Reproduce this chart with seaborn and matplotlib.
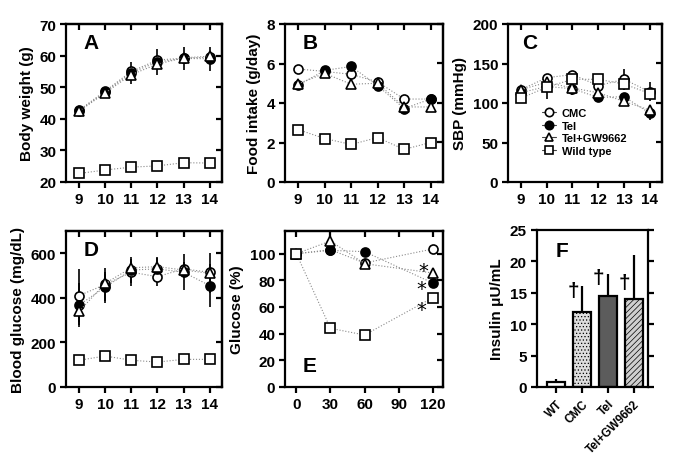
import matplotlib
matplotlib.use('Agg')
import matplotlib.pyplot as plt
from matplotlib.lines import Line2D
import numpy as np
import seaborn as sns

# ---- data ----
weeks = [9, 10, 11, 12, 13, 14]
groups = ['CMC', 'Tel', 'Tel+GW9662', 'Wild type']

# A: body weight (g)
bw_cmc = [42.7, 48.8, 55.0, 58.6, 59.2, 59.5]
bw_tel = [42.5, 48.5, 54.6, 58.0, 59.1, 59.0]
bw_gw = [42.4, 48.2, 54.0, 57.3, 59.3, 59.8]
bw_wt = [22.7, 23.8, 24.7, 25.1, 26.1, 26.0]
bw_err_tel = [0.5, 1.5, 3.5, 4.0, 3.5, 3.8]
bw_err_wt = [1.0, 0.5, 0.5, 0.5, 0.5, 0.5]

# B: food intake (g/day)
fi_cmc = [5.72, 5.6, 5.45, 5.07, 4.2, 4.2]
fi_tel = [4.9, 5.65, 5.85, 4.88, 3.72, 4.2]
fi_gw = [4.98, 5.5, 4.95, 5.0, 3.8, 3.8]
fi_wt = [2.65, 2.2, 1.9, 2.25, 1.65, 2.0]

# C: SBP (mmHg)
sbp_cmc = [117, 132, 136, 122, 130, 114]
sbp_tel = [113, 121, 118, 107, 108, 87]
sbp_gw = [117, 126, 119, 113, 102, 91]
sbp_wt = [106, 120, 130, 130, 124, 112]
sbp_err_cmc = [3, 3, 5, 3, 13, 12]
sbp_err_tel = [3, 3, 8, 3, 3, 8]
sbp_err_wt = [3, 15, 5, 3, 4, 3]

# D: blood glucose (mg/dL)
bg_cmc = [410, 460, 515, 495, 530, 515]
bg_tel = [368, 448, 525, 530, 515, 455]
bg_gw = [339, 465, 535, 540, 525, 510]
bg_wt = [120, 139, 120, 112, 124, 124]
bg_err_cmc = [120, 75, 60, 40, 30, 20]
bg_err_tel = [100, 70, 60, 50, 80, 95]
bg_err_gw = [60, 40, 30, 45, 35, 90]

# E: glucose tolerance (%)
minutes = [0, 30, 60, 120]
gl_cmc = [100, 103, 93, 103.5]
gl_tel = [100, 102.5, 101.5, 78]
gl_gw = [100, 109.5, 92.5, 85.5]
gl_wt = [100, 44, 39, 67]
ast_x = [111.5, 110, 110]
ast_y = [87.5, 74, 58]

# F: insulin
ins_groups = ['WT', 'CMC', 'Tel', 'Tel+GW9662']
ins_mean = [0.85, 11.9, 14.5, 14.05]
ins_err = [0.35, 4.2, 3.5, 7.0]
dagger_y = [15.3, 17.4, 16.7]

# ---- style ----
sns.set_style('ticks')
plt.rcParams['font.family'] = ['Liberation Sans', 'DejaVu Sans']
plt.rcParams['font.weight'] = 'bold'
plt.rcParams['axes.labelweight'] = 'bold'
plt.rcParams['axes.linewidth'] = 1.6
plt.rcParams['hatch.linewidth'] = 0.5
for key in ['text.color', 'axes.labelcolor', 'axes.edgecolor', 'xtick.color', 'ytick.color']:
    plt.rcParams[key] = 'black'

MARK = {'CMC': ('o', 'white'), 'Tel': ('o', 'black'),
        'Tel+GW9662': ('^', 'white'), 'Wild type': ('s', 'white')}


def draw(ax, x, series, errs=None):
    errs = errs or {}
    for name, y in zip(groups, series):
        m, fc = MARK[name]
        if name in errs:
            ax.errorbar(x, y, yerr=errs[name], fmt='none', ecolor='black',
                        elinewidth=1.2, capsize=0, zorder=2)
        sns.lineplot(x=x, y=y, ax=ax, color='#8a8a8a', lw=0.8, ls=':',
                     marker=m, ms=6.5, mfc=fc, mec='black', mew=1.2, zorder=3)


def frame(ax, xticks, yticks, xlim, ylim, ylabel):
    ax.set_xlim(xlim); ax.set_ylim(ylim)
    ax.set_xticks(xticks); ax.set_yticks(yticks)
    ax.tick_params(direction='out', length=4, width=1.6, labelsize=11, pad=3)
    ax.set_xlabel('')
    ax.set_ylabel(ylabel, fontsize=11)
    top = ax.secondary_xaxis('top')
    top.set_xticks(xticks, labels=[])
    top.tick_params(direction='in', length=4, width=1.6)
    right = ax.secondary_yaxis('right')
    right.set_yticks(yticks, labels=[])
    right.tick_params(direction='in', length=4, width=1.6)


fig = plt.figure(figsize=(6.85, 4.64), dpi=100)
W, H = 685.0, 464.0


def axes_px(l, t, r, b):
    return fig.add_axes([l / W, 1 - b / H, (r - l) / W, (b - t) / H])


axA = axes_px(66, 25, 222, 183)
axB = axes_px(285, 25, 443, 183)
axC = axes_px(508, 25, 662, 183)
axD = axes_px(66, 232, 222, 388)
axE = axes_px(285, 232, 443, 388)
axF = axes_px(537, 231, 648, 388)

# A
draw(axA, weeks, [bw_cmc, bw_tel, bw_gw, bw_wt],
     {'Tel': bw_err_tel, 'Wild type': bw_err_wt})
frame(axA, weeks, range(20, 71, 10), (8.5, 14.47), (20, 70), 'Body weight (g)')
axA.text(0.11, 0.94, 'A', transform=axA.transAxes, fontsize=15, va='top')

# B
draw(axB, weeks, [fi_cmc, fi_tel, fi_gw, fi_wt])
frame(axB, weeks, range(0, 9, 2), (8.5, 14.47), (0, 8), 'Food intake (g/day)')
axB.text(0.11, 0.94, 'B', transform=axB.transAxes, fontsize=15, va='top')

# C
draw(axC, weeks, [sbp_cmc, sbp_tel, sbp_gw, sbp_wt],
     {'CMC': sbp_err_cmc, 'Tel': sbp_err_tel, 'Wild type': sbp_err_wt})
frame(axC, weeks, range(0, 201, 50), (8.5, 14.47), (0, 200), 'SBP (mmHg)')
axC.text(0.09, 0.94, 'C', transform=axC.transAxes, fontsize=15, va='top')
handles = [Line2D([], [], color='#444444', lw=0.8, marker=MARK[g][0], ms=6,
                  mfc=MARK[g][1], mec='black', mew=1.2) for g in groups]
axC.legend(handles, groups, loc='upper left', bbox_to_anchor=(0.22, 0.47),
           frameon=False, fontsize=8, handlelength=1.3, handletextpad=0.5,
           labelspacing=0.25, borderaxespad=0, borderpad=0)

# D
draw(axD, weeks, [bg_cmc, bg_tel, bg_gw, bg_wt],
     {'CMC': bg_err_cmc, 'Tel': bg_err_tel, 'Tel+GW9662': bg_err_gw})
frame(axD, weeks, range(0, 601, 200), (8.5, 14.47), (0, 700), 'Blood glucose (mg/dL)')
axD.text(0.11, 0.94, 'D', transform=axD.transAxes, fontsize=15, va='top')

# E
draw(axE, minutes, [gl_cmc, gl_tel, gl_gw, gl_wt])
frame(axE, [0, 30, 60, 90, 120], range(0, 101, 20), (-10, 129), (0, 117), 'Glucose (%)')
axE.text(0.11, 0.08, 'E', transform=axE.transAxes, fontsize=15, va='bottom')
for x, y in zip(ast_x, ast_y):
    axE.text(x, y, '*', ha='center', va='center', fontsize=14,
             fontweight='normal', family='DejaVu Sans')

# F
sns.barplot(x=ins_groups, y=ins_mean, hue=ins_groups, legend=False,
            palette=['white', '#dedede', '#5c5c5c', '#cfcfcf'], width=0.7,
            edgecolor='black', linewidth=1.6, errorbar=None, ax=axF)
for patch, h in zip(axF.patches, ['', '.....', '', '//////']):
    patch.set_hatch(h)
axF.errorbar(range(len(ins_mean)), ins_mean, yerr=[np.zeros(len(ins_err)), ins_err],
             fmt='none', ecolor='black', elinewidth=1.6, capsize=0, zorder=1)
for i, y in zip([1, 2, 3], dagger_y):
    axF.text(i - 0.35, y, '†', ha='center', va='center', fontsize=15)
axF.set_xlim(-0.74, 3.55)
axF.set_ylim(0, 25)
axF.set_yticks(range(0, 26, 5))
axF.tick_params(axis='y', right=True, direction='out', length=4, width=1.6, labelsize=11)
axF.tick_params(axis='x', direction='out', length=4, width=1.6)
axF.set_xticks(range(4))
axF.set_xticklabels(ins_groups, rotation=45, ha='right', rotation_mode='anchor', fontsize=8.5)
axF.set_xlabel('')
axF.set_ylabel('Insulin μU/mL', fontsize=11)
axF.text(0.17, 0.93, 'F', transform=axF.transAxes, fontsize=15, va='top')

fig.savefig('out.png', dpi=100)
